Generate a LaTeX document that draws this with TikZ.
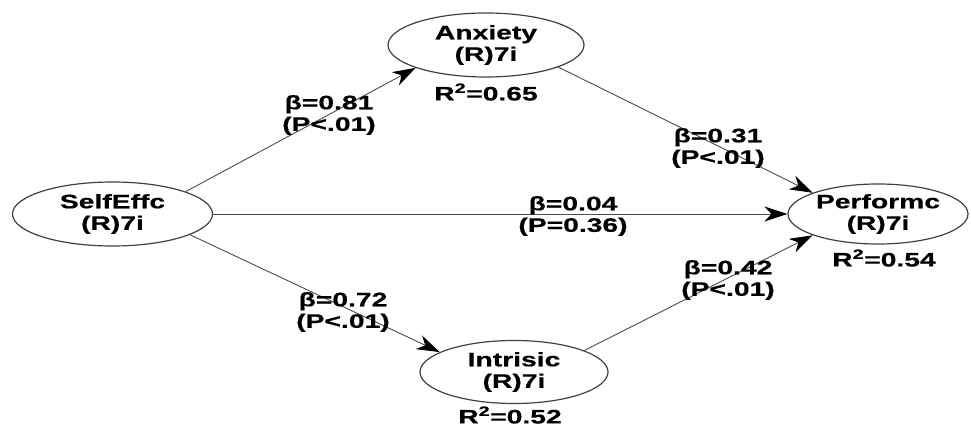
\documentclass[tikz,border=0pt]{standalone}
\usepackage{fontspec}
\setmainfont[FakeStretch=1.45,BoldFeatures={FakeBold=0.6}]{Liberation Sans}
\usetikzlibrary{shapes.geometric,arrows.meta}
\begin{document}
\begin{tikzpicture}[x=1pt,y=1pt,
  ell/.style={ellipse, draw=black!75, line width=1.2pt, inner sep=0pt},
  txt/.style={font=\fontsize{19.5}{21.5}\selectfont\bfseries, align=center, inner sep=0pt, text=black},
  conn/.style={draw=black!70, line width=0.9pt, -{Stealth[length=23pt,width=15pt,inset=7pt,color=black]}}
]
\useasboundingbox (0,0) rectangle (971,426);
% latent variables
\node[ell, minimum width=200pt, minimum height=64pt] (self) at (112.5,212) {};
\node[ell, minimum width=196pt, minimum height=64pt] (anx) at (486,381) {};
\node[ell, minimum width=180pt, minimum height=60pt] (perf) at (878,212) {};
\node[ell, minimum width=188pt, minimum height=63pt] (intr) at (514,54) {};
\node[txt] (self-t) at (self) {SelfEffc\\(R)7i};
\node[txt] (anx-t) at (anx) {Anxiety\\(R)7i};
\node[txt] (perf-t) at (perf) {Performc\\(R)7i};
\node[txt] (intr-t) at (intr) {Intrisic\\(R)7i};
% R squared
\node[txt] (anx-r) at (486,334) {R\textsuperscript{2}=0.65};
\node[txt] (perf-r) at (884,168) {R\textsuperscript{2}=0.54};
\node[txt] (intr-r) at (510,11) {R\textsuperscript{2}=0.52};
% paths
\draw[conn] (self.17) -- (anx.198);
\draw[conn] (self.east) -- (perf.west);
\draw[conn] (self.345) -- (intr.165);
\draw[conn] (anx.-17) -- (perf.162);
\draw[conn] (intr.17) -- (perf.198);
% path labels
\node[txt] (l1) at (329,311) {β=0.81\\(P<.01)};
\node[txt] (l2) at (718,278) {β=0.31\\(P<.01)};
\node[txt] (l3) at (573,210) {β=0.04\\(P=0.36)};
\node[txt] (l4) at (343,114) {β=0.72\\(P<.01)};
\node[txt] (l5) at (728,146) {β=0.42\\(P<.01)};
\end{tikzpicture}
\end{document}
